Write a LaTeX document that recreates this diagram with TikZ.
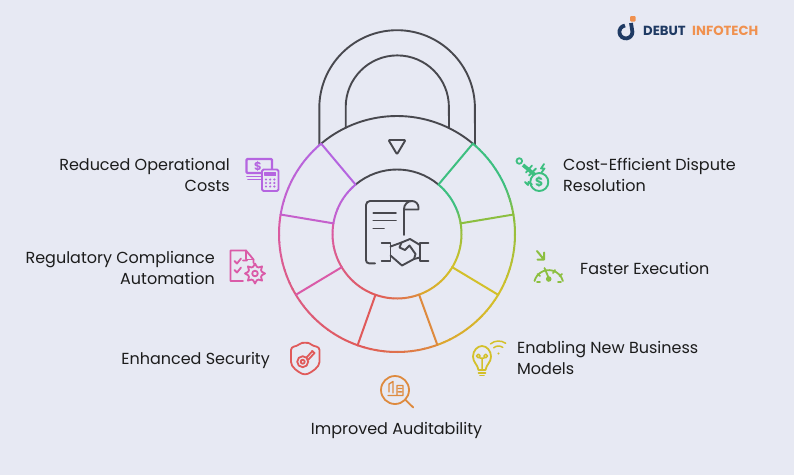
\documentclass[tikz,border=0pt]{standalone}
\usepackage{fontspec}
\setmainfont{Poppins}
\definecolor{pagebg}{HTML}{E7E9F3}
\definecolor{lockgray}{HTML}{48484E}
\definecolor{inktext}{HTML}{1C1C1C}
\definecolor{logonavy}{HTML}{1F3A63}
\definecolor{logoorange}{HTML}{F0914F}
\definecolor{cPurple}{HTML}{B565E0}
\definecolor{cViolet}{HTML}{C560CC}
\definecolor{cPink}{HTML}{DA5BA8}
\definecolor{cRose}{HTML}{DC5C82}
\definecolor{cRed}{HTML}{E05A5A}
\definecolor{cOrange}{HTML}{DE8A3E}
\definecolor{cAmber}{HTML}{DDA52E}
\definecolor{cYellow}{HTML}{D3C02A}
\definecolor{cOlive}{HTML}{8CBF40}
\definecolor{cGreen}{HTML}{3DBF80}
\newcommand{\ringseg}[4]{%
  \foreach \i in {0,...,11}{%
    \pgfmathsetmacro\pct{\i*100/11}
    \pgfmathsetmacro\angA{#1+(#2-(#1))*\i/12}
    \pgfmathsetmacro\angB{#1+(#2-(#1))*(\i+1)/12-0.3}
    \colorlet{segcol}{#4!\pct!#3}
    \draw[ringline,segcol] (\angA:118) arc[start angle=\angA,end angle=\angB,radius=118];
    \draw[ringline,segcol] (\angA:64.5) arc[start angle=\angA,end angle=\angB,radius=64.5];
  }%
}
\tikzset{
  ringline/.style={line width=2pt},
  lockline/.style={draw=lockgray,line width=1.9pt,line join=round,line cap=round},
  iconline/.style={line width=1.8pt,line join=round,line cap=round},
  label/.style={font=\fontsize{16}{21}\selectfont,text=inktext,inner sep=0pt}
}
\begin{document}
\begin{tikzpicture}[x=1pt,y=-1pt]
  \useasboundingbox[fill=pagebg] (0,0) rectangle (794,475);
  % shackle
  \draw[lockline] (319.3,145) -- (319.3,108) arc[start angle=180,end angle=360,radius=77.8] -- (475,145);
  \draw[lockline] (345.7,128) -- (345.7,107) arc[start angle=180,end angle=360,radius=51.6] -- (449,128);
  % rings
  \begin{scope}[shift={(397,234)}]
    \draw[lockline] (230:118) arc[start angle=230,end angle=310,radius=118];
    \draw[lockline] (230:64.5) arc[start angle=230,end angle=310,radius=64.5];
    \ringseg{230}{189.5}{cPurple}{cViolet}
    \ringseg{189.5}{149}{cPink}{cRose}
    \ringseg{149}{109.5}{cRose}{cRed}
    \ringseg{109.5}{70}{cRed}{cOrange}
    \ringseg{70}{31}{cAmber}{cYellow}
    \ringseg{31}{-9.5}{cYellow}{cOlive}
    \ringseg{-9.5}{-25}{cOlive}{cGreen}
    \ringseg{-25}{-50}{cGreen}{cGreen}
    \foreach \ang/\col in {230/cPurple,189.5/cViolet,149/cPink,109.5/cRed,70/cOrange,31/cYellow,-9.5/cOlive,-50/cGreen}
      \draw[ringline,\col,line cap=round] (\ang:64.5) -- (\ang:118);
  \end{scope}
  \draw[lockline,rounded corners=1pt] (388.5,140) -- (405.5,140) -- (397,154.3) -- cycle;
  % contract
  \draw[lockline] (375,263.3) -- (369,263.3) arc[start angle=90,end angle=180,radius=3] -- (366,205) arc[start angle=180,end angle=270,radius=4] -- (412,201) arc[start angle=270,end angle=360,radius=6.5] -- (418.5,209.5) -- (404,209.5);
  \draw[lockline] (404,235) -- (404,209) arc[start angle=180,end angle=270,radius=8];
  \draw[lockline] (373.3,212.7) -- (396,212.7) (373.3,220.5) -- (396,220.5) (373.3,228.5) -- (384,228.5);
  % handshake
  \draw[lockline] (381.7,242.7) -- (390.5,242.7) -- (390.5,260.7) -- (381.7,260.7);
  \draw[lockline] (428.5,242.7) -- (420,242.7) -- (420,260.7) -- (428.5,260.7);
  \draw[lockline] (390.5,246.5) -- (401.5,242.5) -- (410,239) -- (420,245) (420,257.5) -- (414,259) -- (402,265.5) -- (390.5,255.5);
  \draw[lockline] (401.5,242.5) -- (399.5,247.5) -- (405,250) -- (409.5,245.5) -- (415.5,254) -- (414,259);
  % labels
  \node[label,anchor=east,align=right] (reduced) at (230,175) {Reduced Operational\\Costs};
  \node[label,anchor=east,align=right] (regulatory) at (215,268) {Regulatory Compliance\\Automation};
  \node[label,anchor=east] (security) at (270,360) {Enhanced Security};
  \node[label,anchor=center] (audit) at (396.5,430.5) {Improved Auditability};
  \node[label,anchor=west,align=left] (models) at (517,358) {Enabling New Business\\Models};
  \node[label,anchor=west] (faster) at (580,268) {Faster Execution};
  \node[label,anchor=west,align=left] (dispute) at (563,175) {Cost-Efficient Dispute\\Resolution};
  % money icon
  \begin{scope}[iconline,cPurple]
    \draw[rounded corners=1pt,line width=2.4pt] (246.5,159) rectangle (272,173);
    \node[font=\fontsize{11.5}{11.5}\selectfont\bfseries,inner sep=0pt,text=cPurple] (dollarbill) at (258,166) {\$};
    \draw (247,176.5) -- (262,176.5) (248,179.5) -- (262,179.5);
    \draw[fill=pagebg,rounded corners=1.5pt] (262,169.5) rectangle (278.5,191);
    \draw[fill=cPurple] (265,172.5) rectangle (275.5,175.5);
    \foreach \kx in {266,270.2,274.4}
      \foreach \ky in {179.5,183,186.5}
        \fill (\kx,\ky) circle (1.2);
  \end{scope}
  % compliance icon
  \begin{scope}[iconline,cPink]
    \draw (243,281) -- (230.5,281) -- (230.5,250.5) -- (246,250.5) -- (253.5,259.5) -- (253.5,263);
    \draw (246,250.5) -- (246,259.5) -- (253.5,259.5);
    \draw (234.5,261) -- (237,263.5) -- (241,258.5) (243,260.5) -- (247,260.5) (234.5,270) -- (237,272.5) -- (241,267.5);
    \draw plot[samples at={0,15,...,345},variable=\t,shift={(255,273.5)}] (\t:{7+3*(cos(8*\t)>0)}) -- cycle;
    \draw (255,273.5) circle (2.8);
  \end{scope}
  % shield icon
  \begin{scope}[iconline,cRed]
    \draw[rounded corners=3pt] (291,347) .. controls (298,346) and (300,343) .. (305,342.7) .. controls (310,343) and (312,346) .. (319.5,347) -- (319.5,359) .. controls (319.5,367) and (312,372) .. (305,375) .. controls (298,372) and (291,367) .. (291,359) -- cycle;
    \draw (302.7,361.7) circle (5.5) (302.7,361.7) circle (2);
    \draw (306.5,357.5) -- (312,351.5) (308.5,359.5) -- (314.5,353) -- (312,350.8);
  \end{scope}
  % magnifier icon
  \begin{scope}[iconline,cOrange]
    \draw (395,390) circle (14);
    \draw (405,399.5) -- (413.3,407.5);
    \draw[line width=1.4pt] (389,392) -- (389,384) -- (393,381.5) -- (393,393) (388,395.5) -- (403,395.5) -- (403,385.5) -- (397,385.5) -- (397,395.5) (398.5,388.5) -- (401.5,388.5) (398.5,391.8) -- (401.5,391.8);
  \end{scope}
  % bulb icon
  \begin{scope}[iconline,cYellow]
    \draw (478.5,370) .. controls (477.5,364) and (473,362.5) .. (473,356.5) .. controls (473,350.5) and (477.5,346) .. (482,346) .. controls (487,346) and (491,351) .. (491,356.5) .. controls (491,362.5) and (486.5,364) .. (485.5,370) -- cycle;
    \draw[line width=1.5pt] (482,370) -- (482,358) (478.3,356) circle (1.9) (485.7,356) circle (1.9) (480,358) -- (484,358);
    \draw (478.5,373) -- (485.5,373) (480,375.5) -- (484,375.5);
    \draw[line width=1.5pt] (498.5,353.5) ++(230:12.5) arc[start angle=230,end angle=305,radius=12.5];
    \draw[line width=1.5pt] (498.5,353.5) ++(230:7.5) arc[start angle=230,end angle=305,radius=7.5];
    \fill (498.5,353.5) circle (1.2);
  \end{scope}
  % gauge icon
  \begin{scope}[iconline,cOlive]
    \draw (534.5,281) arc[start angle=195,end angle=345,radius=14.7];
    \draw (544.5,268) -- (548.7,278);
    \fill (548.7,279) circle (2.8);
    \draw (537.5,274) -- (540,276) (555,270) -- (553,273) (562,274) -- (559.5,276) (537,282) -- (540,282) (558,282) -- (561,282);
    \draw[line width=2pt] (537,251) -- (543.5,259) (544,252.5) -- (544,259.5) -- (537.5,259.5);
  \end{scope}
  % gavel icon
  \begin{scope}[iconline,cGreen]
    \draw (519.3,161) circle (2.8);
    \draw[line width=3.6pt,line cap=butt] (523,165) -- (535,175);
    \draw (526,172.5) -- (532,165.5) (529,175.5) -- (536,168.5);
    \draw[line width=1.9pt,fill=pagebg] (539.3,182) circle (9);
    \node[font=\fontsize{12.5}{12.5}\selectfont\bfseries,inner sep=0pt,text=cGreen] (dollarcoin) at (539.3,182) {\$};
    \draw (544,164) -- (541,168.5) -- (544.5,168.5) -- (541.5,172.5);
    \draw (525,182) -- (528,185) -- (528.5,182) -- (532,184.5);
  \end{scope}
  % logo
  \draw[logonavy,line width=3.8pt] (625,25.5) arc[start angle=262,end angle=0,radius=6.5] -- (631,23);
  \fill[logoorange,rounded corners=1pt] (630,16) rectangle (635.5,21.5);
  \node[font=\fontsize{13.2}{13.2}\selectfont\bfseries,text=logonavy,inner sep=0pt,anchor=west] (debut) at (643,31) {DEBUT};
  \node[font=\fontsize{13.2}{13.2}\selectfont\bfseries,text=logoorange,inner sep=0pt,anchor=west] (infotech) at (692,31) {INFOTECH};
\end{tikzpicture}
\end{document}
